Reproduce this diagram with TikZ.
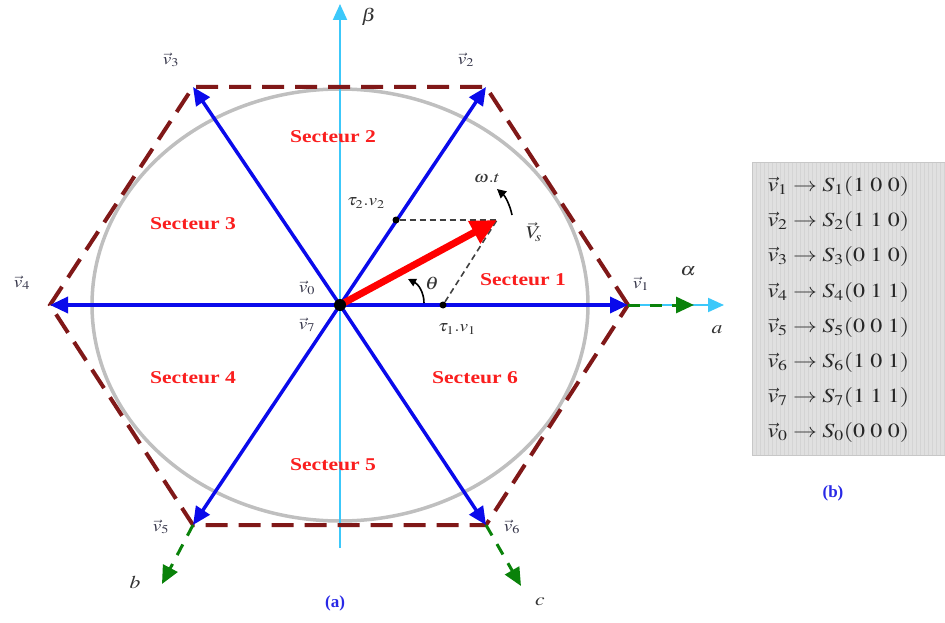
\documentclass[tikz,border=0pt]{standalone}
\usepackage{mathptmx}
\usepackage[no-math]{fontspec}
\setmainfont{Liberation Serif}
\usetikzlibrary{arrows.meta}
\newcommand{\hs}[1]{\scalebox{1.2}[1]{#1}}
\definecolor{maroon}{RGB}{128,24,24}
\definecolor{vblue}{RGB}{10,10,235}
\definecolor{axcyan}{RGB}{60,200,250}
\definecolor{dgreen}{RGB}{10,130,10}
\definecolor{secred}{RGB}{250,30,30}
\definecolor{lab}{RGB}{55,55,75}
\definecolor{tblue}{RGB}{40,40,230}
\tikzset{
  vec/.style={draw=vblue,line width=3.5pt,-{Triangle[length=18pt,width=16pt]}},
  hexa/.style={draw=maroon,line width=4pt,dash pattern=on 22pt off 11pt},
  axisarr/.style={draw=axcyan,line width=2pt,-{Triangle[length=16pt,width=14pt]}},
  gax/.style={draw=dgreen,line width=3pt,dash pattern=on 12pt off 10pt,-{Triangle[length=18pt,width=16pt]}},
  sect/.style={text=secred,font=\fontsize{18}{20}\selectfont\bfseries},
  vlab/.style={text=lab,font=\fontsize{16}{18}\selectfont},
  axlab/.style={text=black!80,font=\fontsize{18}{20}\selectfont},
  smlab/.style={text=black!80,font=\fontsize{16}{18}\selectfont},
  tabrow/.style={anchor=west,font=\fontsize{20}{22}\selectfont,text=black!85},
  capt/.style={text=tblue,font=\fontsize{17}{19}\selectfont\bfseries},
  dotc/.style={circle,fill=black,inner sep=0pt,minimum size=7pt},
}
\begin{document}
\begin{tikzpicture}[x=1pt,y=-1pt]
\useasboundingbox (0,0) rectangle (945,623);
% key points
\coordinate (O) at (340,305);
\coordinate (H1) at (628,305);
\coordinate (H2) at (486,87);
\coordinate (H3) at (193,87);
\coordinate (H4) at (50,305);
\coordinate (H5) at (193,525);
\coordinate (H6) at (486,525);
% circle
\draw[draw=black!25,line width=3.5pt] (O) ellipse [x radius=248,y radius=216];
% beta axis
\coordinate (Bb) at (340,548);
\coordinate (Bt) at (340,4);
\draw[axisarr] (Bb) -- (Bt);
% alpha axis
\coordinate (At) at (724,305);
\draw[axisarr] (O) -- (At);
% hexagon
\draw[hexa] (H1) -- (H2) -- (H3) -- (H4) -- (H5) -- (H6) -- cycle;
% green axes
\coordinate (Ga) at (694,305);
\coordinate (Gb) at (162,584);
\coordinate (Gc) at (521,586);
\draw[gax] (H1) -- (Ga);
\draw[gax] (H5) -- (Gb);
\draw[gax] (H6) -- (Gc);
% blue vectors
\foreach \h in {H1,H2,H3,H4,H5,H6} \draw[vec] (O) -- (\h);
% projections
\coordinate (Vs) at (497,220);
\node[dotc] (P2) at (396,220) {};
\node[dotc] (P1) at (443,305) {};
\draw[black!75,line width=1.6pt,dash pattern=on 6pt off 4pt] (P2) -- (Vs);
\draw[black!75,line width=1.6pt,dash pattern=on 6pt off 4pt] (P1) -- (Vs);
% Vs
\draw[draw=red,line width=7pt,-{Triangle[length=26pt,width=24pt]}] (O) -- (Vs);
\node[dotc,minimum size=12pt] (Oc) at (O) {};
% theta arc
\coordinate (T0) at (424,303);
\coordinate (T1) at (408,279);
\draw[line width=1.6pt,-{Triangle[length=8pt,width=8pt]}] (T0) .. controls (424,292) and (418,284) .. (T1);
\node[axlab] (th) at (432,283) {\hs{$\theta$}};
% omega arc
\coordinate (W0) at (512,215);
\coordinate (W1) at (497,189);
\draw[line width=1.6pt,-{Triangle[length=9pt,width=9pt]}] (W0) .. controls (510,205) and (505,196) .. (W1);
\node[smlab] (wt) at (487,178) {\hs{$\omega.t$}};
\node[axlab] (vsl) at (534,232) {\hs{$\vec{V}_{\!s}$}};
\node[smlab] (t2) at (366,203) {\hs{$\tau_2.v_2$}};
\node[smlab] (t1) at (457,329) {\hs{$\tau_1.v_1$}};
% sector labels
\node[sect] (s1) at (523,280) {\hs{Secteur 1}};
\node[sect] (s2) at (333,137) {\hs{Secteur 2}};
\node[sect] (s3) at (193,224) {\hs{Secteur 3}};
\node[sect] (s4) at (193,378) {\hs{Secteur 4}};
\node[sect] (s5) at (333,465) {\hs{Secteur 5}};
\node[sect] (s6) at (475,378) {\hs{Secteur 6}};
% vector labels
\node[vlab] (l1) at (641,284) {\hs{$\vec{v}_1$}};
\node[vlab] (l2) at (466,60) {\hs{$\vec{v}_2$}};
\node[vlab] (l3) at (171,60) {\hs{$\vec{v}_3$}};
\node[vlab] (l4) at (22,283) {\hs{$\vec{v}_4$}};
\node[vlab] (l5) at (161,527) {\hs{$\vec{v}_5$}};
\node[vlab] (l6) at (512,527) {\hs{$\vec{v}_6$}};
\node[vlab] (l0) at (307,288) {\hs{$\vec{v}_0$}};
\node[vlab] (l7) at (307,325) {\hs{$\vec{v}_7$}};
% axis labels
\node[axlab] (la) at (688,271) {\hs{$\alpha$}};
\node[axlab] (lA) at (717,330) {\hs{$a$}};
\node[axlab] (lB) at (369,17) {\hs{$\beta$}};
\node[axlab] (lb) at (135,582) {\hs{$b$}};
\node[axlab] (lc) at (540,602) {\hs{$c$}};
% captions
\node[capt] (ca) at (335,603) {(a)};
\node[capt] (cb) at (833,493) {(b)};
% table
\fill[black!12] (752,162) rectangle (945,455);
\draw[black!17,line width=0.5pt] (752,162) grid[step=4] (945,455);
\draw[black!22,line width=0.8pt] (752,162) rectangle (945,455);
\node[tabrow] (r1) at (764,186) {\hs{$\vec{v}_1 \rightarrow S_1(1\;0\;0)$}};
\node[tabrow] (r2) at (764,221) {\hs{$\vec{v}_2 \rightarrow S_2(1\;1\;0)$}};
\node[tabrow] (r3) at (764,256) {\hs{$\vec{v}_3 \rightarrow S_3(0\;1\;0)$}};
\node[tabrow] (r4) at (764,292) {\hs{$\vec{v}_4 \rightarrow S_4(0\;1\;1)$}};
\node[tabrow] (r5) at (764,327) {\hs{$\vec{v}_5 \rightarrow S_5(0\;0\;1)$}};
\node[tabrow] (r6) at (764,362) {\hs{$\vec{v}_6 \rightarrow S_6(1\;0\;1)$}};
\node[tabrow] (r7) at (764,397) {\hs{$\vec{v}_7 \rightarrow S_7(1\;1\;1)$}};
\node[tabrow] (r0) at (764,432) {\hs{$\vec{v}_0 \rightarrow S_0(0\;0\;0)$}};
\end{tikzpicture}
\end{document}
